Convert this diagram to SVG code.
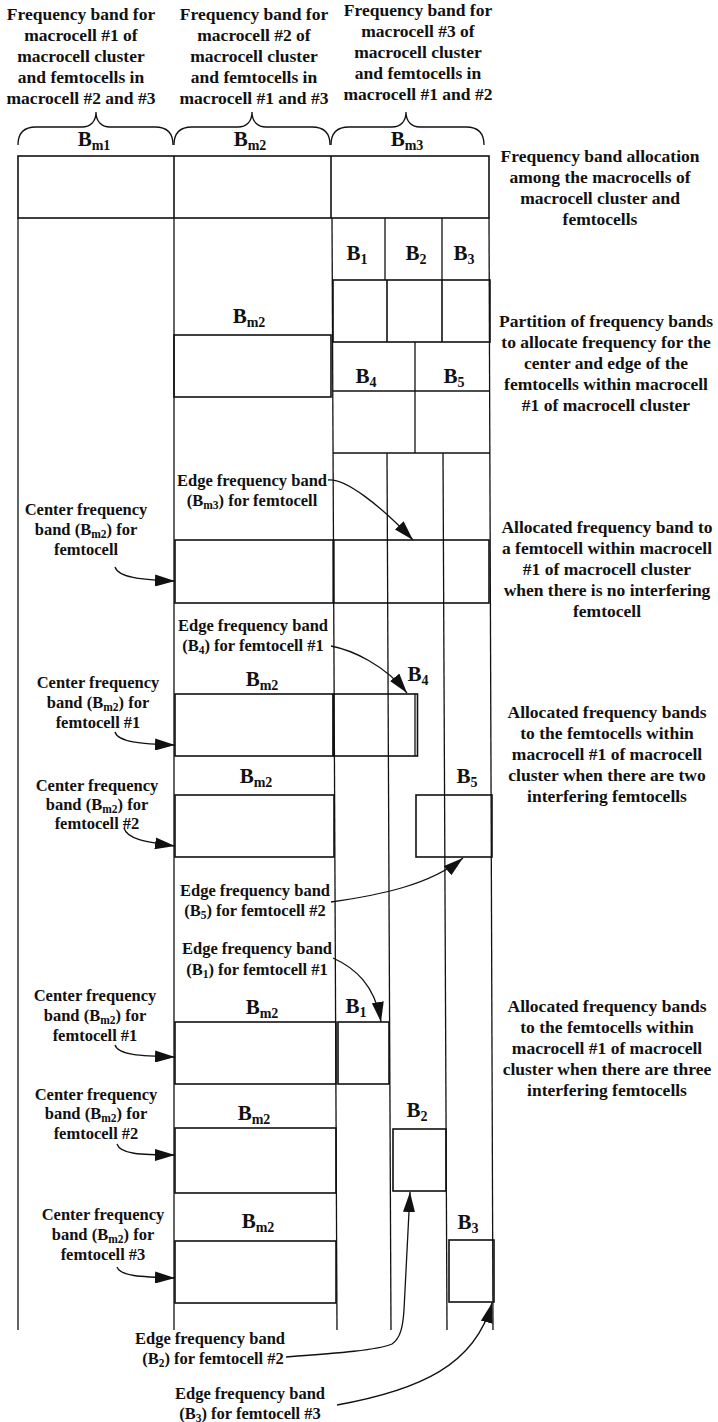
<svg xmlns="http://www.w3.org/2000/svg" width="718" height="1422" viewBox="0 0 718 1422">
<style>
.t{font-family:"Liberation Serif","Times New Roman",serif;font-weight:bold;fill:#111;text-anchor:middle}
.h{font-size:17.5px}
.l{font-size:16.5px}
.b{font-size:21px}
.s{font-size:14px}
.ss{font-size:11.5px}
.box{fill:none;stroke:#111;stroke-width:1.6}
.ln{fill:none;stroke:#111;stroke-width:1.3}
.arr{fill:none;stroke:#111;stroke-width:1.3;marker-end:url(#ah)}
</style>
<defs>
<marker id="ah" markerUnits="userSpaceOnUse" viewBox="0 0 20 12" refX="20" refY="6" markerWidth="20" markerHeight="12" orient="auto">
<path d="M0,0 L20,6 L0,12 z" fill="#111"/>
</marker>
</defs>
<rect width="718" height="1422" fill="#fff"/>

<g id="header">
<text class="t h" x="81" y="20">Frequency band for</text>
<text class="t h" x="81" y="41">macrocell #1 of</text>
<text class="t h" x="81" y="62">macrocell cluster</text>
<text class="t h" x="81" y="83">and femtocells in</text>
<text class="t h" x="81" y="104">macrocell #2 and #3</text>
<text class="t h" x="254" y="20">Frequency band for</text>
<text class="t h" x="254" y="41">macrocell #2 of</text>
<text class="t h" x="254" y="62">macrocell cluster</text>
<text class="t h" x="254" y="83">and femtocells in</text>
<text class="t h" x="254" y="104">macrocell #1 and #3</text>
<text class="t h" x="418" y="16">Frequency band for</text>
<text class="t h" x="418" y="37">macrocell #3 of</text>
<text class="t h" x="418" y="58">macrocell cluster</text>
<text class="t h" x="418" y="79">and femtocells in</text>
<text class="t h" x="418" y="100">macrocell #1 and #2</text>
<path class="ln" d="M18,145 C18,133 24,127 36,127 L82,127 C90,127 96,122 96,112 C96,122 102,127 110,127 L155,127 C167,127 173,133 173,145"/>
<path class="ln" d="M174,145 C174,133 180,127 192,127 L238,127 C246,127 252,122 252,112 C252,122 258,127 266,127 L312,127 C324,127 330,133 330,145"/>
<path class="ln" d="M331,145 C331,133 337,127 349,127 L392,127 C400,127 406,122 406,112 C406,122 412,127 420,127 L466,127 C478,127 484,133 484,145"/>
<text class="t b" x="94" y="146">B<tspan class="s" dy="4">m1</tspan></text>
<text class="t b" x="250" y="146">B<tspan class="s" dy="4">m2</tspan></text>
<text class="t b" x="407" y="146">B<tspan class="s" dy="4">m3</tspan></text>
</g>

<g id="allocation">
<rect class="box" x="18" y="156" width="471" height="62"/>
<line class="box" x1="174" y1="156" x2="174" y2="218"/>
<line class="box" x1="331" y1="156" x2="331" y2="218"/>
</g>

<g id="columns">
<line class="ln" x1="18" y1="218" x2="18" y2="1330"/>
<line class="ln" x1="174" y1="218" x2="174" y2="1330"/>
<line class="ln" x1="332" y1="218" x2="337" y2="1330"/>
<line class="ln" x1="489" y1="218" x2="493" y2="1330"/>
<line class="ln" x1="387" y1="453" x2="391" y2="1330"/>
<line class="ln" x1="443" y1="453" x2="447" y2="1330"/>
</g>

<g id="partition">
<line class="ln" x1="385" y1="218" x2="385" y2="280"/>
<line class="ln" x1="442" y1="218" x2="442" y2="280"/>
<text class="t b" x="357" y="260">B<tspan class="s" dy="4">1</tspan></text>
<text class="t b" x="416" y="260">B<tspan class="s" dy="4">2</tspan></text>
<text class="t b" x="464" y="260">B<tspan class="s" dy="4">3</tspan></text>
<rect class="box" x="333" y="280" width="157" height="62"/>
<line class="box" x1="387" y1="280" x2="387" y2="342"/>
<line class="box" x1="442" y1="280" x2="442" y2="342"/>
<line class="ln" x1="415" y1="342" x2="415" y2="453"/>
<text class="t b" x="366" y="383">B<tspan class="s" dy="4">4</tspan></text>
<text class="t b" x="454" y="383">B<tspan class="s" dy="4">5</tspan></text>
<line class="ln" x1="333" y1="391" x2="490" y2="391"/>
<line class="ln" x1="333" y1="453" x2="490" y2="453"/>
<text class="t b" x="249" y="323">B<tspan class="s" dy="4">m2</tspan></text>
<rect class="box" x="174" y="335" width="157" height="62"/>
</g>

<g id="no-interference">
<text class="t l" x="252" y="486">Edge frequency band</text>
<text class="t l" x="252" y="506">(B<tspan class="ss" dy="3">m3</tspan><tspan dy="-3">) for femtocell</tspan></text>
<text class="t l" x="86" y="515">Center frequency</text>
<text class="t l" x="86" y="535">band (B<tspan class="ss" dy="3">m2</tspan><tspan dy="-3">) for</tspan></text>
<text class="t l" x="86" y="555">femtocell</text>
<rect class="box" x="175" y="540" width="314" height="63"/>
<line class="box" x1="333.5" y1="540" x2="333.5" y2="603" style="stroke-width:2.2"/>
</g>

<g id="two-interfering">
<text class="t l" x="253" y="631">Edge frequency band</text>
<text class="t l" x="253" y="651">(B<tspan class="ss" dy="3">4</tspan><tspan dy="-3">) for femtocell #1</tspan></text>
<text class="t b" x="262" y="686">B<tspan class="s" dy="4">m2</tspan></text>
<text class="t b" x="418" y="681">B<tspan class="s" dy="4">4</tspan></text>
<text class="t l" x="98" y="688">Center frequency</text>
<text class="t l" x="98" y="708">band (B<tspan class="ss" dy="3">m2</tspan><tspan dy="-3">) for</tspan></text>
<text class="t l" x="98" y="728">femtocell #1</text>
<rect class="box" x="175" y="694" width="158" height="62"/>
<rect class="box" x="333.5" y="694" width="84" height="62"/>
<line class="ln" x1="415" y1="694" x2="415" y2="756"/>
<text class="t b" x="256" y="783">B<tspan class="s" dy="4">m2</tspan></text>
<text class="t b" x="467" y="783">B<tspan class="s" dy="4">5</tspan></text>
<text class="t l" x="97" y="791">Center frequency</text>
<text class="t l" x="97" y="810">band (B<tspan class="ss" dy="3">m2</tspan><tspan dy="-3">) for</tspan></text>
<text class="t l" x="97" y="829">femtocell #2</text>
<rect class="box" x="175" y="795" width="159" height="62"/>
<rect class="box" x="416" y="795" width="76" height="62"/>
<text class="t l" x="255" y="896">Edge frequency band</text>
<text class="t l" x="255" y="916">(B<tspan class="ss" dy="3">5</tspan><tspan dy="-3">) for femtocell #2</tspan></text>
</g>

<g id="three-interfering">
<text class="t l" x="257" y="954">Edge frequency band</text>
<text class="t l" x="257" y="975">(B<tspan class="ss" dy="3">1</tspan><tspan dy="-3">) for femtocell #1</tspan></text>
<text class="t b" x="262" y="1014">B<tspan class="s" dy="4">m2</tspan></text>
<text class="t b" x="356" y="1013">B<tspan class="s" dy="4">1</tspan></text>
<text class="t l" x="95" y="1001">Center frequency</text>
<text class="t l" x="95" y="1021">band (B<tspan class="ss" dy="3">m2</tspan><tspan dy="-3">) for</tspan></text>
<text class="t l" x="95" y="1041">femtocell #1</text>
<rect class="box" x="175" y="1022" width="161" height="62"/>
<rect class="box" x="338" y="1022" width="51" height="62"/>
<text class="t b" x="254" y="1120">B<tspan class="s" dy="4">m2</tspan></text>
<text class="t b" x="417" y="1117">B<tspan class="s" dy="4">2</tspan></text>
<text class="t l" x="96" y="1100">Center frequency</text>
<text class="t l" x="96" y="1119">band (B<tspan class="ss" dy="3">m2</tspan><tspan dy="-3">) for</tspan></text>
<text class="t l" x="96" y="1139">femtocell #2</text>
<rect class="box" x="175" y="1128" width="161" height="65"/>
<rect class="box" x="393" y="1129" width="53" height="62"/>
<text class="t b" x="258" y="1228">B<tspan class="s" dy="4">m2</tspan></text>
<text class="t b" x="468" y="1229">B<tspan class="s" dy="4">3</tspan></text>
<text class="t l" x="103" y="1220">Center frequency</text>
<text class="t l" x="103" y="1240">band (B<tspan class="ss" dy="3">m2</tspan><tspan dy="-3">) for</tspan></text>
<text class="t l" x="103" y="1260">femtocell #3</text>
<rect class="box" x="175" y="1241" width="161" height="62"/>
<rect class="box" x="449" y="1240" width="45" height="62"/>
<text class="t l" x="210" y="1344">Edge frequency band</text>
<text class="t l" x="213" y="1364">(B<tspan class="ss" dy="3">2</tspan><tspan dy="-3">) for femtocell #2</tspan></text>
<text class="t l" x="250" y="1399">Edge frequency band</text>
<text class="t l" x="250" y="1419">(B<tspan class="ss" dy="3">3</tspan><tspan dy="-3">) for femtocell #3</tspan></text>
</g>

<g id="descriptions">
<text class="t h" x="600" y="162">Frequency band allocation</text>
<text class="t h" x="600" y="183">among the macrocells of</text>
<text class="t h" x="600" y="204">macrocell cluster and</text>
<text class="t h" x="600" y="225">femtocells</text>
<text class="t h" x="606" y="327">Partition of frequency bands</text>
<text class="t h" x="606" y="348">to allocate frequency for the</text>
<text class="t h" x="606" y="369">center and edge of the</text>
<text class="t h" x="606" y="390">femtocells within macrocell</text>
<text class="t h" x="606" y="411">#1 of macrocell cluster</text>
<text class="t h" x="607" y="533">Allocated frequency band to</text>
<text class="t h" x="607" y="554">a femtocell within macrocell</text>
<text class="t h" x="607" y="575">#1 of macrocell cluster</text>
<text class="t h" x="607" y="596">when there is no interfering</text>
<text class="t h" x="607" y="617">femtocell</text>
<text class="t h" x="607" y="718">Allocated frequency bands</text>
<text class="t h" x="607" y="739">to the femtocells within</text>
<text class="t h" x="607" y="760">macrocell #1 of macrocell</text>
<text class="t h" x="607" y="781">cluster when there are two</text>
<text class="t h" x="607" y="802">interfering femtocells</text>
<text class="t h" x="607" y="1012">Allocated frequency bands</text>
<text class="t h" x="607" y="1033">to the femtocells within</text>
<text class="t h" x="607" y="1054">macrocell #1 of macrocell</text>
<text class="t h" x="607" y="1075">cluster when there are three</text>
<text class="t h" x="607" y="1096">interfering femtocells</text>
</g>

<g id="connectors">
<path class="arr" d="M328,480 C345,478 380,505 413,540"/>
<path class="arr" d="M115,567 C118,577 140,580 175,581"/>
<path class="arr" d="M331,646 C352,650 385,665 407,693"/>
<path class="arr" d="M115,732 C118,742 140,744 175,745"/>
<path class="arr" d="M124,828 C127,839 145,842 175,846"/>
<path class="arr" d="M331,902 C380,895 430,885 463,858"/>
<path class="arr" d="M333,958 C355,968 375,985 381,1022"/>
<path class="arr" d="M115,1045 C118,1055 140,1056 175,1057"/>
<path class="arr" d="M117,1144 C120,1154 140,1155 175,1155"/>
<path class="arr" d="M117,1267 C120,1276 140,1277 175,1278"/>
<path class="arr" d="M286,1357 C340,1353 378,1350 392,1344 C401,1338 403,1325 404,1310 L410,1192"/>
<path class="arr" d="M337,1405 C420,1390 475,1365 492,1303"/>
</g>
</svg>
